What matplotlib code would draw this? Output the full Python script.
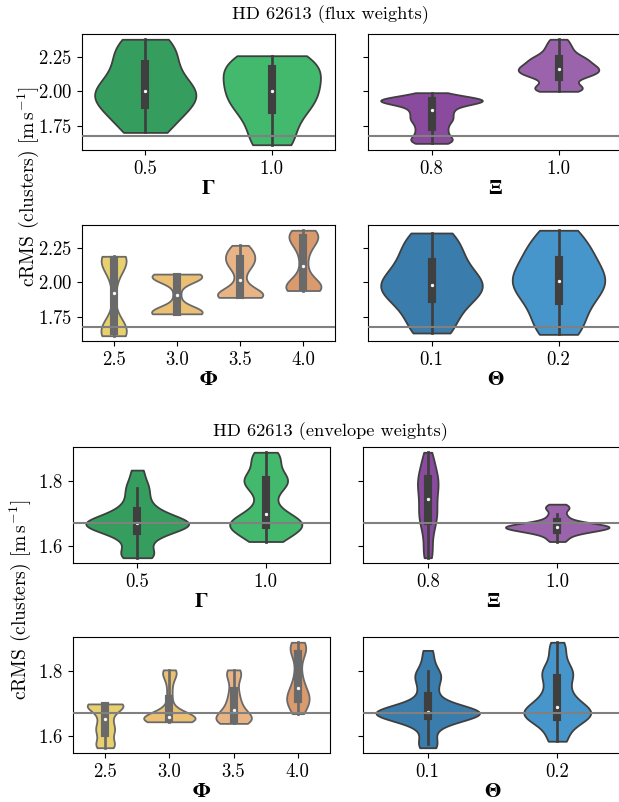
import numpy as np
import pandas as pd
import matplotlib
matplotlib.use("Agg")
import matplotlib.pyplot as plt
import seaborn as sns

plt.rcParams["font.family"] = "serif"
plt.rcParams["font.serif"] = ["cmr10"]
plt.rcParams["mathtext.fontset"] = "cm"
plt.rcParams["axes.formatter.use_mathtext"] = True
plt.rcParams["font.size"] = 13

ref_line = 1.673

# ---- flux weights: cRMS samples per parameter value
gamma_flux = {
    "0.5": [1.70, 1.72, 1.78, 1.85, 1.88, 1.92, 1.95, 1.97, 1.98, 2.00, 2.02, 2.05, 2.10, 2.18, 2.22, 2.27, 2.32, 2.36, 2.38],
    "1.0": [1.61, 1.63, 1.66, 1.78, 1.85, 1.88, 1.92, 1.94, 1.97, 2.00, 2.03, 2.08, 2.12, 2.15, 2.18, 2.20, 2.22, 2.24, 2.26],
}
xi_flux = {
    "0.8": [1.62, 1.63, 1.64, 1.65, 1.67, 1.69, 1.71, 1.73, 1.75, 1.77, 1.79, 1.80, 1.81, 1.83, 1.85, 1.86, 1.87, 1.89,
            1.91, 1.92, 1.925, 1.928, 1.93, 1.932, 1.935, 1.938, 1.94, 1.945, 1.95, 1.97, 1.99],
    "1.0": [2.00, 2.01, 2.02, 2.04, 2.06, 2.09, 2.11, 2.12, 2.13, 2.14, 2.15, 2.16, 2.17, 2.18, 2.19, 2.20, 2.22,
            2.23, 2.24, 2.26, 2.28, 2.31, 2.34, 2.38],
}
phi_flux = {
    "2.5": [1.61, 1.615, 1.62, 1.63, 1.64, 1.65, 1.66, 1.68, 1.72, 1.92, 2.06, 2.12, 2.14, 2.155, 2.165, 2.175, 2.18, 2.185, 2.19],
    "3.0": [1.77, 1.772, 1.775, 1.778, 1.78, 1.785, 1.79, 1.80, 1.91, 2.02, 2.03, 2.035, 2.04, 2.045, 2.05, 2.055, 2.06],
    "3.5": [1.89, 1.892, 1.895, 1.90, 1.905, 1.91, 1.915, 1.93, 1.96, 2.02, 2.09, 2.12, 2.14, 2.16, 2.18, 2.20, 2.22, 2.245, 2.27],
    "4.0": [1.94, 1.945, 1.95, 1.955, 1.96, 1.97, 1.98, 2.00, 2.04, 2.12, 2.20, 2.26, 2.29, 2.31, 2.33, 2.345, 2.36, 2.37, 2.38],
}
theta_flux = {
    "0.1": [1.63, 1.66, 1.72, 1.80, 1.85, 1.90, 1.93, 1.95, 1.97, 1.98, 2.00, 2.03, 2.08, 2.13, 2.17, 2.22, 2.28, 2.33, 2.36],
    "0.2": [1.62, 1.65, 1.70, 1.77, 1.84, 1.88, 1.93, 1.96, 1.98, 2.01, 2.03, 2.06, 2.10, 2.15, 2.18, 2.23, 2.28, 2.33, 2.38],
}

# ---- envelope weights
gamma_env = {
    "0.5": [1.565, 1.57, 1.58, 1.60, 1.62, 1.635, 1.645, 1.65, 1.655, 1.66, 1.665, 1.668, 1.67, 1.672, 1.675, 1.68,
            1.685, 1.69, 1.70, 1.71, 1.72, 1.74, 1.76, 1.78, 1.80, 1.835],
    "1.0": [1.615, 1.62, 1.635, 1.645, 1.655, 1.66, 1.665, 1.67, 1.672, 1.675, 1.68, 1.69, 1.70, 1.72, 1.75, 1.78,
            1.79, 1.80, 1.805, 1.81, 1.82, 1.85, 1.87, 1.88, 1.89],
}
xi_env = {
    "0.8": [1.565, 1.58, 1.61, 1.64, 1.66, 1.675, 1.69, 1.70, 1.71, 1.725, 1.74, 1.755, 1.765, 1.78, 1.79, 1.80, 1.81,
            1.82, 1.835, 1.85, 1.87, 1.89],
    "1.0": [1.615, 1.625, 1.635, 1.64, 1.645, 1.648, 1.65, 1.652, 1.654, 1.656, 1.658, 1.66, 1.661, 1.662, 1.664,
            1.666, 1.668, 1.67, 1.675, 1.68, 1.69, 1.70, 1.715, 1.72, 1.73],
}
phi_env = {
    "2.5": [1.565, 1.57, 1.575, 1.59, 1.61, 1.62, 1.625, 1.64, 1.655, 1.67, 1.685, 1.69, 1.695, 1.70, 1.70, 1.70, 1.70],
    "3.0": [1.645, 1.647, 1.649, 1.65, 1.651, 1.652, 1.653, 1.654, 1.655, 1.656, 1.658, 1.66, 1.662, 1.665, 1.67,
            1.68, 1.70, 1.73, 1.76, 1.785, 1.795, 1.80, 1.805],
    "3.5": [1.64, 1.643, 1.646, 1.65, 1.653, 1.656, 1.66, 1.665, 1.67, 1.68, 1.69, 1.70, 1.715, 1.73, 1.75, 1.775,
            1.79, 1.80, 1.805],
    "4.0": [1.67, 1.68, 1.69, 1.70, 1.71, 1.715, 1.72, 1.725, 1.73, 1.745, 1.755, 1.77, 1.79, 1.82, 1.85, 1.86, 1.87,
            1.88, 1.885, 1.89],
}
theta_env = {
    "0.1": [1.565, 1.575, 1.60, 1.63, 1.645, 1.655, 1.66, 1.663, 1.666, 1.668, 1.67, 1.671, 1.672, 1.674, 1.676,
            1.678, 1.68, 1.685, 1.69, 1.70, 1.72, 1.74, 1.76, 1.78, 1.79, 1.80, 1.83, 1.865],
    "0.2": [1.585, 1.59, 1.62, 1.64, 1.65, 1.655, 1.66, 1.665, 1.67, 1.675, 1.68, 1.685, 1.69, 1.70, 1.71, 1.725,
            1.74, 1.76, 1.78, 1.795, 1.80, 1.81, 1.84, 1.87, 1.89],
}

gamma_cols = ["#359e5e", "#43b96e"]
xi_cols = ["#8a4a9e", "#9a63ac"]
phi_cols = ["#e8d06e", "#ebc074", "#e8b486", "#d99a6e"]
theta_cols = ["#3a7cab", "#4796cb"]

W, H = 619, 802
fig = plt.figure(figsize=(W / 100, H / 100), dpi=100)


def box(x0, y0, x1, y1):
    return [x0 / W, 1 - y1 / H, (x1 - x0) / W, (y1 - y0) / H]


def violin(ax, samples, cols, label, edge, bw):
    rows = [(k, v) for k, vals in samples.items() for v in vals]
    df = pd.DataFrame(rows, columns=["p", "crms"])
    sns.violinplot(data=df, x="p", y="crms", hue="p", palette=cols, legend=False,
                   cut=0, inner="box", saturation=1, linewidth=1.3, linecolor=edge,
                   bw_adjust=bw, common_norm=True,
                   inner_kws=dict(marker="o", markersize=2.0, markeredgewidth=0.4), ax=ax)
    ax.axhline(ref_line, color="grey", lw=1.5, zorder=5)
    ax.set_xlabel(label, fontsize=15, family="STIXGeneral", weight="bold", labelpad=2)
    ax.set_ylabel("")
    ax.tick_params(labelsize=13.5)


groups = [
    ("HD 62613 (flux weights)", 15, [gamma_flux, xi_flux, phi_flux, theta_flux],
     [(82, 34, 335, 150), (368, 34, 622, 150), (82, 225, 335, 341), (368, 225, 622, 341)], 187, 28,
     [1.0, 0.5, 0.6, 0.9]),
    ("HD 62613 (envelope weights)", 432, [gamma_env, xi_env, phi_env, theta_env],
     [(73, 447, 330, 563), (363, 447, 622, 563), (73, 637, 330, 753), (363, 637, 622, 753)], 600, 20,
     [0.6, 0.6, 0.6, 0.6]),
]
labels = ["Γ", "Ξ", "Φ", "Θ"]
palettes = [gamma_cols, xi_cols, phi_cols, theta_cols]

for title, ty, datasets, boxes, ly, lx, bws in groups:
    axes = []
    for i in range(4):
        ax = fig.add_axes(box(*boxes[i]), sharey=axes[0] if axes else None)
        edge = "#6a6a6a" if i == 2 else "#3f3f3f"
        violin(ax, datasets[i], palettes[i], labels[i], edge, bws[i])
        if i % 2 == 1:
            ax.tick_params(labelleft=False)
        axes.append(ax)
    fig.text(330 / W, 1 - ty / H, title, ha="center", va="center", fontsize=13.2)
    fig.text(lx / W, 1 - ly / H, r"cRMS (clusters) [$\mathrm{m\,s^{-1}}$]",
             rotation=90, ha="center", va="center", fontsize=14)

fig.savefig("out.png", dpi=100)
